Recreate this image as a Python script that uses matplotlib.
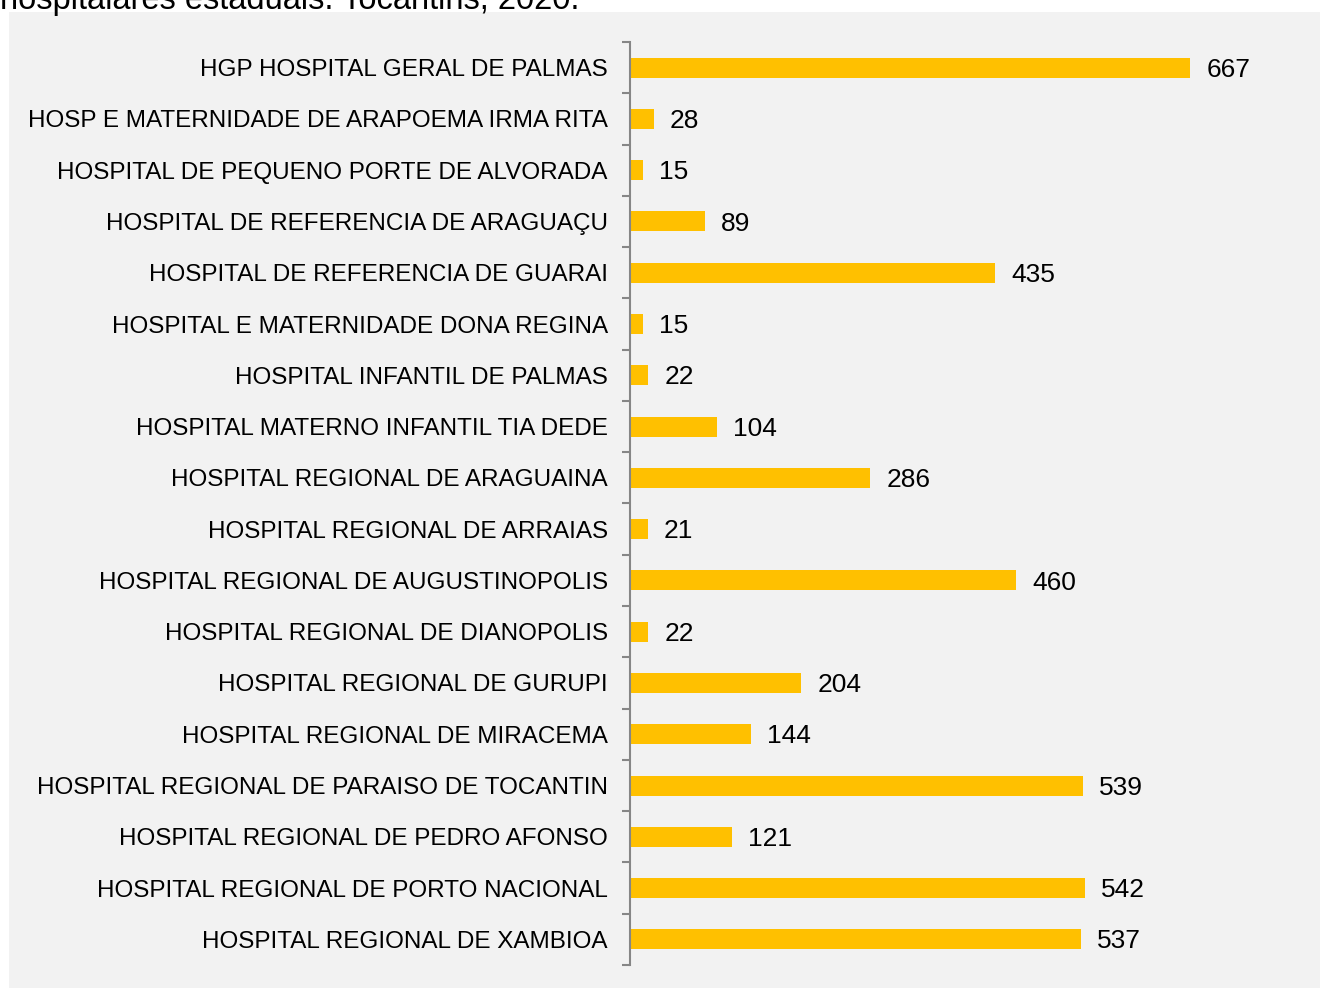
import numpy as np
import matplotlib.pyplot as plt
from matplotlib.patches import Rectangle

plt.rcParams['font.family'] = ['Liberation Sans', 'DejaVu Sans']

## data
hospitals = [
    "HGP HOSPITAL GERAL DE PALMAS",
    "HOSP E MATERNIDADE DE ARAPOEMA IRMA RITA",
    "HOSPITAL DE PEQUENO PORTE DE ALVORADA",
    "HOSPITAL DE REFERENCIA DE ARAGUAÇU",
    "HOSPITAL DE REFERENCIA DE GUARAI",
    "HOSPITAL E MATERNIDADE DONA REGINA",
    "HOSPITAL INFANTIL DE PALMAS",
    "HOSPITAL MATERNO INFANTIL TIA DEDE",
    "HOSPITAL REGIONAL DE ARAGUAINA",
    "HOSPITAL REGIONAL DE ARRAIAS",
    "HOSPITAL REGIONAL DE AUGUSTINOPOLIS",
    "HOSPITAL REGIONAL DE DIANOPOLIS",
    "HOSPITAL REGIONAL DE GURUPI",
    "HOSPITAL REGIONAL DE MIRACEMA",
    "HOSPITAL REGIONAL DE PARAISO DE TOCANTIN",
    "HOSPITAL REGIONAL DE PEDRO AFONSO",
    "HOSPITAL REGIONAL DE PORTO NACIONAL",
    "HOSPITAL REGIONAL DE XAMBIOA",
]
counts = [667, 28, 15, 89, 435, 15, 22, 104, 286, 21, 460, 22, 204, 144, 539, 121, 542, 537]
title_text = "hospitalares estaduais. Tocantins, 2020."

W, H = 1320, 988
fig = plt.figure(figsize=(W / 100, H / 100), dpi=100)
fig.patch.set_facecolor('white')

# gray chart area, behind the axes
fig.patches.append(Rectangle((9 / W, 0), 1 - 9 / W, 1 - 12 / H,
                             transform=fig.transFigure, facecolor='#f2f2f2',
                             edgecolor='none', zorder=-10))

# cut-off title line at the very top (as in the source image)
fig.text(0.0, 1 - 9 / H, title_text, fontsize=23.5, va='baseline', ha='left', color='black')

ax = fig.add_axes([630 / W, 23 / H, 672 / W, 923 / H])
ax.set_facecolor('none')

y = np.arange(len(hospitals))
ax.barh(y, counts, height=0.39, color='#FFC000', zorder=2)
ax.set_ylim(len(hospitals) - 0.5, -0.5)
ax.set_xlim(0, 800)

for yi, v in zip(y, counts):
    ax.annotate(str(v), (v, yi), xytext=(11.5, -1.5), textcoords='offset points',
                va='center', ha='left', fontsize=19, color='black')

ax.set_yticks(y)
ax.set_yticklabels(hospitals, fontsize=17.5)
ax.tick_params(axis='y', which='major', length=0, pad=16)
ax.set_yticks(np.arange(len(hospitals) + 1) - 0.5, minor=True)
ax.tick_params(axis='y', which='minor', length=6, width=1.5, color='#868686')
ax.set_xticks([])

for s in ['top', 'right', 'bottom']:
    ax.spines[s].set_visible(False)
ax.spines['left'].set_color('#868686')
ax.spines['left'].set_linewidth(1.5)

fig.savefig('out.png', dpi=100)
